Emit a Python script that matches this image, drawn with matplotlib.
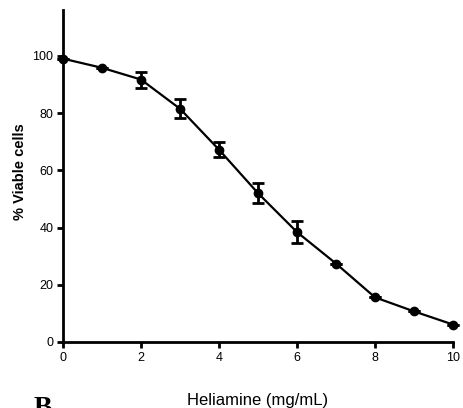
import numpy as np
import matplotlib
matplotlib.use("Agg")
import matplotlib.pyplot as plt

# data
conc = [0, 1, 2, 3, 4, 5, 6, 7, 8, 9, 10]
viable = [99.0, 95.8, 91.7, 81.5, 67.2, 52.0, 38.4, 27.4, 15.6, 10.7, 6.1]
err = [0, 0, 2.8, 3.4, 2.7, 3.4, 3.8, 0, 0, 0, 0]
xticks = [0, 2, 4, 6, 8, 10]
yticks = [0, 20, 40, 60, 80, 100]

fam = ['Liberation Sans Narrow', 'Liberation Sans', 'DejaVu Sans']

fig = plt.figure(figsize=(4.63, 4.08), dpi=100)
ax = fig.add_axes([63/463, 1 - 342/408, 390/463, 332/408])

ax.errorbar(conc, viable, yerr=err, color='black', lw=1.6, marker='o', ms=6,
            capsize=4, capthick=2, elinewidth=2, clip_on=False, zorder=3)

ax.set_xlim(0, 10)
ax.set_ylim(0, 116)
ax.set_xticks(xticks)
ax.set_yticks(yticks)
ax.set_xticklabels([str(t) for t in xticks], family=fam, fontsize=9)
ax.set_yticklabels([str(t) for t in yticks], family=fam, fontsize=9)
ax.tick_params(width=2, length=4, direction='out', pad=3)
for s in ['top', 'right']:
    ax.spines[s].set_visible(False)
for s in ['left', 'bottom']:
    ax.spines[s].set_linewidth(2)

fig.text(20/463, 1 - 172/408, '% Viable cells', family=['Liberation Sans', 'DejaVu Sans'],
         fontweight='bold', fontsize=10.5, rotation=90, ha='center', va='center')
fig.text(258/463, 1 - 400/408, 'Heliamine (mg/mL)', family=fam, fontsize=12,
         ha='center', va='center')
fig.text(34/463, 1 - 396/408, 'B', family=['Liberation Serif'], fontweight='bold',
         fontsize=20, ha='left', va='top')

fig.savefig('out.png', dpi=100)
